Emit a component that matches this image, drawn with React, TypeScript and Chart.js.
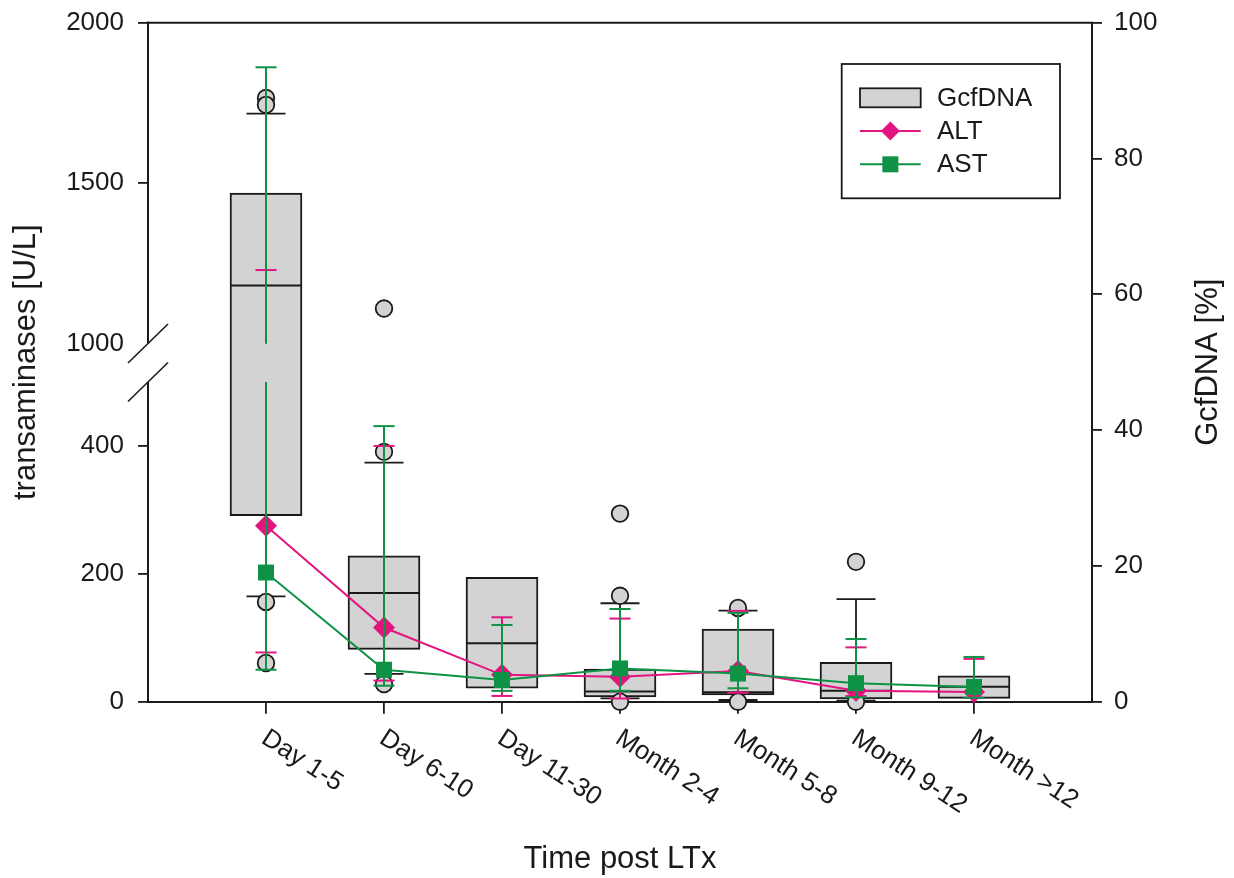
import React, { useEffect, useRef } from 'react';
import { Chart, registerables } from 'chart.js';

Chart.register(...registerables);

// ---------------- data ----------------
const categories = ['Day 1-5', 'Day 6-10', 'Day 11-30', 'Month 2-4', 'Month 5-8', 'Month 9-12', 'Month >12'];

// GcfDNA [%] box plots (right axis)
const boxLow = [27.4, 7.7, 2.0, 0.7, 1.0, 0.4, 0.5];
const boxHigh = [74.9, 21.5, 18.3, 4.8, 10.7, 5.8, 3.8];
const boxMedian = [61.3, 16.0, 8.6, 1.5, 1.4, 1.6, 2.2];
const whiskerLow: (number | null)[] = [15.5, 4.1, null, 0.5, 0.25, 0.15, null];
const whiskerHigh: (number | null)[] = [86.6, 35.2, null, 14.5, 13.4, 15.1, null];
const outliers: number[][] = [[88.9, 87.9, 14.7, 5.7], [57.9, 36.8, 2.6], [], [27.7, 15.6, 0], [13.8, 0], [20.6, 0], []];

// transaminases [U/L] (left axis)
const altValues = [275, 116, 42, 39, 48, 17, 15];
const altLow = [77, 33, 9, 5, 14, 9, 6];
const altHigh = [1229, 400, 132, 130, 142, 85, 67];
const astValues = [202, 50, 34, 52, 44, 29, 23];
const astLow = [50, 25, 17, 17, 21, 7, 6];
const astHigh = [1861, 431, 120, 145, 139, 98, 70];

const leftTicks = [0, 200, 400, 1000, 1500, 2000];
const rightTicks = [0, 20, 40, 60, 80, 100];

// ---------------- styles ----------------
const PINK = '#E2157F';
const GREEN = '#0E9346';
const BOX_FILL = '#D3D3D3';
const INK = '#1a1a1a';
const FONT = '"Liberation Sans", Arial, Helvetica, sans-serif';
const BOX_WIDTH = 72;
const WHISKER_CAP = 39;
const ERR_CAP = 21;

// broken left axis: 0..500 lower part, 1000..2000 upper part
const LOWER_MAX = 500;
const UPPER_MIN = 1000;
const UPPER_MAX = 2000;
const LOWER_SPAN = 319.7;
const GAP_SPAN = 38.5;
const UPPER_SPAN = 320.8;
const V_MAX = LOWER_SPAN + GAP_SPAN + UPPER_SPAN;

function toVirtual(v: number): number {
  if (v <= LOWER_MAX) return (v / LOWER_MAX) * LOWER_SPAN;
  if (v >= UPPER_MIN) return LOWER_SPAN + GAP_SPAN + ((v - UPPER_MIN) / (UPPER_MAX - UPPER_MIN)) * UPPER_SPAN;
  return LOWER_SPAN + ((v - LOWER_MAX) / (UPPER_MIN - LOWER_MAX)) * GAP_SPAN;
}

function seg(ctx: CanvasRenderingContext2D, x1: number, y1: number, x2: number, y2: number) {
  ctx.beginPath();
  ctx.moveTo(x1, y1);
  ctx.lineTo(x2, y2);
  ctx.stroke();
}

function drawBoxExtras(chart: any) {
  const ctx: CanvasRenderingContext2D = chart.ctx;
  const xs = chart.scales.x;
  const ys = chart.scales.yR;
  ctx.save();
  ctx.strokeStyle = INK;
  ctx.lineCap = 'butt';
  categories.forEach((_, i) => {
    const cx = xs.getPixelForValue(i + 1);
    ctx.lineWidth = 2;
    const my = ys.getPixelForValue(boxMedian[i]);
    seg(ctx, cx - BOX_WIDTH / 2 + 1, my, cx + BOX_WIDTH / 2 - 1, my);
    ctx.lineWidth = 1.8;
    const wh = whiskerHigh[i];
    if (wh != null) {
      const y1 = ys.getPixelForValue(boxHigh[i]);
      const y2 = ys.getPixelForValue(wh);
      seg(ctx, cx, y1, cx, y2);
      seg(ctx, cx - WHISKER_CAP / 2, y2, cx + WHISKER_CAP / 2, y2);
    }
    const wl = whiskerLow[i];
    if (wl != null) {
      const y1 = ys.getPixelForValue(boxLow[i]);
      const y2 = ys.getPixelForValue(wl);
      seg(ctx, cx, y1, cx, y2);
      seg(ctx, cx - WHISKER_CAP / 2, y2, cx + WHISKER_CAP / 2, y2);
    }
  });
  ctx.restore();
}

function drawErrorBars(chart: any, lows: number[], highs: number[], color: string) {
  const ctx: CanvasRenderingContext2D = chart.ctx;
  const xs = chart.scales.x;
  const ys = chart.scales.yL;
  const py = (v: number) => ys.getPixelForValue(toVirtual(v));
  ctx.save();
  ctx.strokeStyle = color;
  ctx.lineWidth = 2;
  categories.forEach((_, i) => {
    const cx = xs.getPixelForValue(i + 1);
    const lo = lows[i];
    const hi = highs[i];
    if (hi > LOWER_MAX && lo < UPPER_MIN) {
      seg(ctx, cx, py(lo), cx, py(LOWER_MAX));
      seg(ctx, cx, py(UPPER_MIN), cx, py(hi));
    } else {
      seg(ctx, cx, py(lo), cx, py(hi));
    }
    seg(ctx, cx - ERR_CAP / 2, py(lo), cx + ERR_CAP / 2, py(lo));
    seg(ctx, cx - ERR_CAP / 2, py(hi), cx + ERR_CAP / 2, py(hi));
  });
  ctx.restore();
}

const customPlugin = {
  id: 'customDraw',
  afterDatasetDraw(chart: any, args: any) {
    if (args.index === 0) drawBoxExtras(chart);
  },
  beforeDatasetDraw(chart: any, args: any) {
    if (args.index === 2) drawErrorBars(chart, altLow, altHigh, PINK);
    if (args.index === 3) drawErrorBars(chart, astLow, astHigh, GREEN);
  },
  afterDraw(chart: any) {
    const ctx: CanvasRenderingContext2D = chart.ctx;
    const { left, right, top, bottom } = chart.chartArea;
    const yl = chart.scales.yL;
    const xs = chart.scales.x;
    ctx.save();
    // frame: top and broken left axis
    ctx.strokeStyle = INK;
    ctx.lineWidth = 2;
    seg(ctx, left - 1, top, right + 1, top);
    const yBreakTop = yl.getPixelForValue(toVirtual(UPPER_MIN));
    const yBreakBot = yl.getPixelForValue(toVirtual(LOWER_MAX));
    seg(ctx, left, top - 1, left, yBreakTop);
    seg(ctx, left, yBreakBot, left, bottom + 1);
    ctx.lineWidth = 1.6;
    [yBreakTop, yBreakBot].forEach((yy) => {
      seg(ctx, left - 20, yy + 19.5, left + 20, yy - 19.5);
    });

    // x tick labels (rotated clockwise)
    ctx.fillStyle = INK;
    ctx.font = `26px ${FONT}`;
    categories.forEach((c, i) => {
      const px = xs.getPixelForValue(i + 1);
      ctx.save();
      ctx.translate(px + 5, 725);
      ctx.rotate((33 * Math.PI) / 180);
      ctx.textAlign = 'left';
      ctx.textBaseline = 'top';
      ctx.fillText(c, 0, 0);
      ctx.restore();
    });

    // axis titles
    ctx.font = `31px ${FONT}`;
    ctx.textAlign = 'center';
    ctx.textBaseline = 'alphabetic';
    ctx.save();
    ctx.translate(35, (top + bottom) / 2);
    ctx.rotate(-Math.PI / 2);
    ctx.fillText('transaminases [U/L]', 0, 0);
    ctx.restore();
    ctx.save();
    ctx.translate(1217, (top + bottom) / 2);
    ctx.rotate(-Math.PI / 2);
    ctx.fillText('GcfDNA [%]', 0, 0);
    ctx.restore();
    ctx.fillText('Time post LTx', (left + right) / 2, 868);

    // legend
    const lx = 841.7, ly = 64, lw = 218.3, lh = 134.3;
    ctx.fillStyle = '#ffffff';
    ctx.fillRect(lx, ly, lw, lh);
    ctx.strokeStyle = INK;
    ctx.lineWidth = 1.8;
    ctx.strokeRect(lx, ly, lw, lh);
    const sx1 = 860, sx2 = 920.7, tx = 937;
    ctx.fillStyle = BOX_FILL;
    ctx.fillRect(sx1, 88.3, sx2 - sx1, 19);
    ctx.strokeRect(sx1, 88.3, sx2 - sx1, 19);
    ctx.lineWidth = 2;
    ctx.strokeStyle = PINK;
    seg(ctx, sx1, 131, sx2, 131);
    ctx.fillStyle = PINK;
    const mx = (sx1 + sx2) / 2;
    ctx.beginPath();
    ctx.moveTo(mx - 9.5, 131);
    ctx.lineTo(mx, 121.5);
    ctx.lineTo(mx + 9.5, 131);
    ctx.lineTo(mx, 140.5);
    ctx.closePath();
    ctx.fill();
    ctx.strokeStyle = GREEN;
    seg(ctx, sx1, 164.3, sx2, 164.3);
    ctx.fillStyle = GREEN;
    ctx.fillRect(mx - 8, 156.3, 16, 16);
    ctx.fillStyle = INK;
    ctx.font = `26px ${FONT}`;
    ctx.textAlign = 'left';
    ctx.textBaseline = 'middle';
    ctx.fillText('GcfDNA', tx, 98.5);
    ctx.fillText('ALT', tx, 131.5);
    ctx.fillText('AST', tx, 164.5);
    ctx.restore();
  },
};

export default function App() {
  const canvasRef = useRef<HTMLCanvasElement | null>(null);

  useEffect(() => {
    const canvas = canvasRef.current;
    if (!canvas) return;
    const chart = new Chart(canvas, {
      type: 'bar',
      data: {
        datasets: [
          {
            type: 'bar',
            label: 'GcfDNA',
            data: categories.map((_, i) => ({ x: i + 1, y: [boxLow[i], boxHigh[i]] })) as any,
            yAxisID: 'yR',
            xAxisID: 'x',
            backgroundColor: BOX_FILL,
            borderColor: INK,
            borderWidth: 2,
            borderSkipped: false,
            barThickness: BOX_WIDTH,
            order: 4,
          } as any,
          {
            type: 'scatter',
            label: 'outliers',
            data: outliers.flatMap((arr, i) => arr.map((v) => ({ x: i + 1, y: v }))),
            yAxisID: 'yR',
            xAxisID: 'x',
            pointRadius: 8.3,
            pointBackgroundColor: BOX_FILL,
            pointBorderColor: INK,
            pointBorderWidth: 1.8,
            clip: false,
            order: 3,
          } as any,
          {
            type: 'line',
            label: 'ALT',
            data: altValues.map((v, i) => ({ x: i + 1, y: toVirtual(v) })),
            yAxisID: 'yL',
            xAxisID: 'x',
            borderColor: PINK,
            borderWidth: 2,
            tension: 0,
            pointStyle: 'rectRot',
            pointRadius: 11,
            pointBackgroundColor: PINK,
            pointBorderColor: PINK,
            pointBorderWidth: 0,
            clip: false,
            order: 2,
          } as any,
          {
            type: 'line',
            label: 'AST',
            data: astValues.map((v, i) => ({ x: i + 1, y: toVirtual(v) })),
            yAxisID: 'yL',
            xAxisID: 'x',
            borderColor: GREEN,
            borderWidth: 2,
            tension: 0,
            pointStyle: 'rect',
            pointRadius: 11.3,
            pointBackgroundColor: GREEN,
            pointBorderColor: GREEN,
            pointBorderWidth: 0,
            clip: false,
            order: 1,
          } as any,
        ],
      },
      options: {
        responsive: false,
        animation: false,
        devicePixelRatio: 1,
        layout: { padding: { left: 8, top: 22.7, right: 0, bottom: 0 } },
        plugins: { legend: { display: false }, tooltip: { enabled: false }, title: { display: false } },
        scales: {
          x: {
            type: 'linear',
            position: 'bottom',
            min: 0,
            max: 8,
            offset: false,
            afterBuildTicks: (s: any) => {
              s.ticks = categories.map((_, i) => ({ value: i + 1 }));
            },
            afterFit: (s: any) => {
              s.height = 878 - 701.7;
              s.paddingLeft = 0;
              s.paddingRight = 0;
            },
            ticks: { display: false },
            grid: { offset: false, drawOnChartArea: false, drawTicks: true, tickLength: 12, color: INK, lineWidth: 1.8 },
            border: { display: true, color: INK, width: 2 },
          },
          yL: {
            type: 'linear',
            position: 'left',
            min: 0,
            max: V_MAX,
            afterBuildTicks: (s: any) => {
              s.ticks = leftTicks.map((v) => ({ value: toVirtual(v) }));
            },
            afterFit: (s: any) => {
              s.width = 140;
              s.paddingTop = 0;
              s.paddingBottom = 0;
            },
            ticks: {
              callback: (_v: any, idx: number) => String(leftTicks[idx]),
              font: { family: FONT, size: 26 },
              color: INK,
              padding: 14,
            },
            grid: {
              drawOnChartArea: false,
              tickLength: 10,
              lineWidth: 1.8,
              color: (c: any) => (leftTicks[c.index] === UPPER_MIN ? 'rgba(0,0,0,0)' : INK),
            },
            border: { display: false },
          },
          yR: {
            type: 'linear',
            position: 'right',
            min: 0,
            max: 100,
            afterBuildTicks: (s: any) => {
              s.ticks = rightTicks.map((v) => ({ value: v }));
            },
            afterFit: (s: any) => {
              s.width = 142;
              s.paddingTop = 0;
              s.paddingBottom = 0;
            },
            ticks: {
              callback: (_v: any, idx: number) => String(rightTicks[idx]),
              font: { family: FONT, size: 26 },
              color: INK,
              padding: 12,
            },
            grid: { drawOnChartArea: false, tickLength: 10, lineWidth: 1.8, color: INK },
            border: { display: true, color: INK, width: 2 },
          },
        },
      } as any,
      plugins: [customPlugin],
    });
    return () => chart.destroy();
  }, []);

  return (
    <div style={{ position: 'absolute', left: 0, top: 0, width: 1234, height: 878, background: '#fff' }}>
      <canvas ref={canvasRef} width={1234} height={878} style={{ width: 1234, height: 878, display: 'block' }} />
    </div>
  );
}
